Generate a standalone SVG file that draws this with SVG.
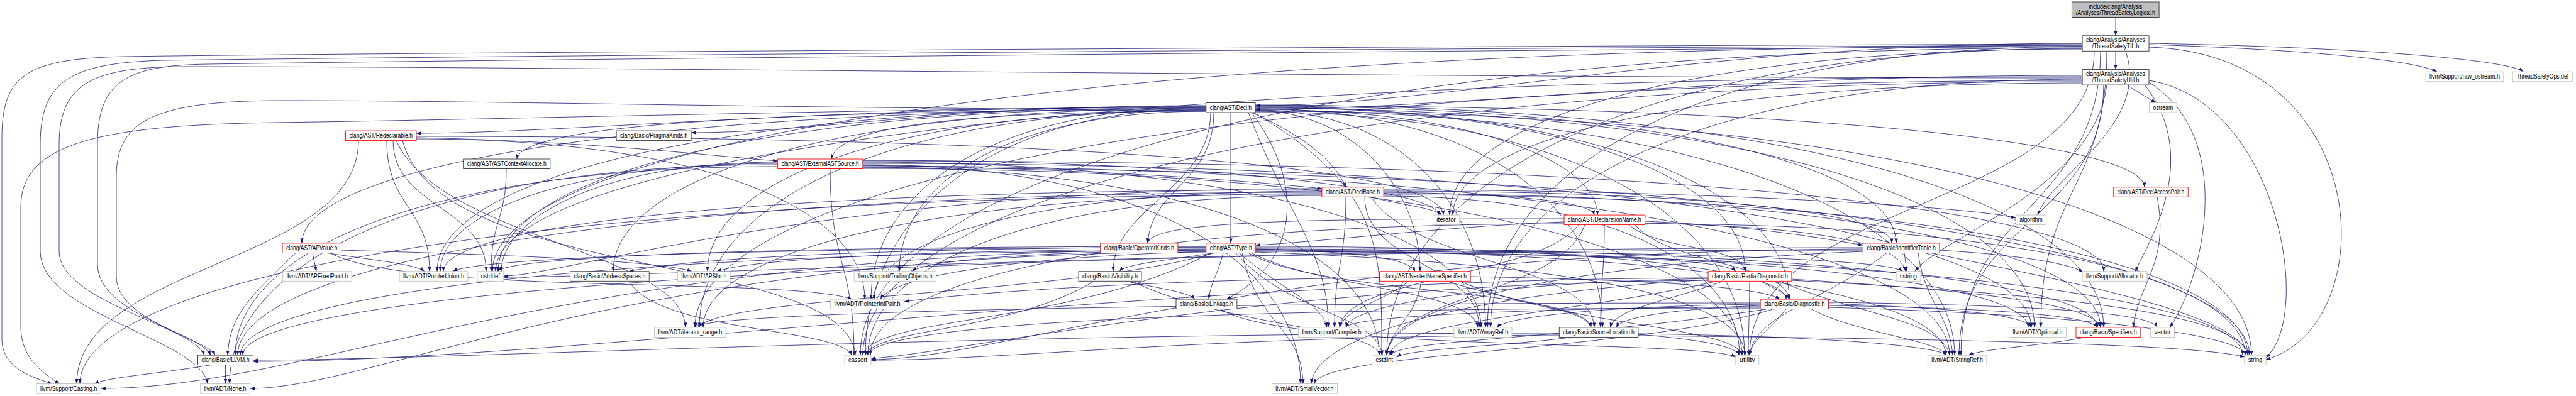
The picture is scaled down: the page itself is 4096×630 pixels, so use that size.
<svg xmlns="http://www.w3.org/2000/svg" width="4096" height="630" viewBox="0 0 4096 630">
<style>
.n rect{fill:#fff;stroke-width:0.9}
.r rect{stroke:#ff0000}.b rect{stroke:#333}.g rect{stroke:#bfbfbf}
.root rect{fill:#bfbfbf;stroke:#333}
text{font-family:"Liberation Sans",Arial,sans-serif;font-size:10px;text-anchor:middle;fill:#000}
#edges path{fill:none;stroke:#191970;stroke-width:0.8;marker-end:url(#a)}
</style>
<defs><marker id="a" viewBox="0 0 7.5 5.5" refX="7.5" refY="2.75" markerWidth="7.5" markerHeight="5.5" markerUnits="userSpaceOnUse" orient="auto"><path d="M0,0L7.5,2.75L0,5.5z" fill="#191970"/></marker></defs>
<rect x="0" y="0" width="4096" height="630" fill="#fff"/>
<g id="edges">
<path d="M3364,27.5C3364,40 3364,45 3364,56.8"/>
<path d="M3364,81.3C3364,92 3364,100 3364,110.6"/>
<path d="M3311,69C2700,69 2300,168 1996,168"/>
<path d="M3311,74C2300,80 800,95 330,102C200,104 155,130 155,230L155,420C155,500 320,530 335,565.1"/>
<path d="M3311,74C2696,74 2365,275 2365,520.9"/>
<path d="M3311,72C2200,77 700,90 260,96C110,100 64,130 64,230L64,400C64,500 320,540 330,610.6"/>
<path d="M3350,81.3C3350,300 3245,300 3245,520.9"/>
<path d="M3340,81.3C3340,330 3118,330 3118,565.1"/>
<path d="M3311,70C2200,74 600,84 200,90C40,93 3,120 3,220L3,540C3,585 50,600 83,610.6"/>
<path d="M3417,71C3650,78 3840,95 3875,114.2"/>
<path d="M3417,69C3750,75 3990,95 4012,114.2"/>
<path d="M3380,81.3C3420,200 3260,280 3240,342.1"/>
<path d="M3311,76C2048,76 1368,296 1368,565.1"/>
<path d="M3311,73C1668,73 783,234 783,431.8"/>
<path d="M3311,77C2592,77 2205,297 2205,565.1"/>
<path d="M3311,78C2657,78 2305,197 2305,342.1"/>
<path d="M3417,75C3780,85 3790,520 3603,572"/>
<path d="M3330,81.3C3330,330 2782,320 2782,565.1"/>
<path d="M3311,120C2700,120 2300,174 1996,174"/>
<path d="M3311,124C2300,124 900,106 300,106C150,106 94,130 94,230L94,400C94,480 310,520 325,565.1"/>
<path d="M3311,126C2699,126 2370,304 2370,520.9"/>
<path d="M3345,134.6C3345,350 3115,350 3115,565.1"/>
<path d="M3311,128C1877,128 1105,305 1105,520.9"/>
<path d="M3410,134.6C3500,250 3420,380 3395,431.8"/>
<path d="M3311,130C2051,130 1372,326 1372,565.1"/>
<path d="M3311,122C1671,122 788,261 788,431.8"/>
<path d="M3350,134.6C3330,300 3080,380 3045,431.8"/>
<path d="M3311,132C2660,132 2310,227 2310,342.1"/>
<path d="M3382,134.6C3395,145 3415,155 3428,163.5"/>
<path d="M3417,128C3620,160 3680,500 3603,569"/>
<path d="M3417,131C3560,220 3500,450 3450,520.9"/>
<path d="M1917.8,173C983,173 480,269 480,386.9"/>
<path d="M1917.8,175C1200,175 828,200 822,253"/>
<path d="M1917.8,177C1500,177 1330,205 1322,253"/>
<path d="M1917.8,170C1300,170 900,212 662,212"/>
<path d="M1917.8,168C1500,168 1300,211 1099,211"/>
<path d="M1917.8,172C1305,172 975,289 975,431.8"/>
<path d="M1917.8,174C1300,174 800,160 450,160C250,160 185,190 185,280L185,440C185,510 330,540 342,565.1"/>
<path d="M1917.8,176C1403,176 1125,291 1125,431.8"/>
<path d="M1917.8,171C1572,171 1385,308 1385,476"/>
<path d="M1917.8,169C1123,169 695,287 695,431.8"/>
<path d="M1917.8,175C1394,175 1112,331 1112,520.9"/>
<path d="M1917.8,170C1300,175 800,190 440,195C150,199 33,230 33,330L33,520C33,570 70,595 95,610.6"/>
<path d="M1917.8,177C1601,177 1430,292 1430,431.8"/>
<path d="M1917.8,173C1566,173 1376,349 1376,565.1"/>
<path d="M1917.8,171C1186,171 792,288 792,431.8"/>
<path d="M1996.1,168C2800,168 3405,220 3410,297.8"/>
<path d="M1990,178.8C2060,210 2120,250 2140,297.8"/>
<path d="M1996.1,174C2350,174 2540,260 2540,342.1"/>
<path d="M1996.1,176C2150,176 2258,300 2258,431.8"/>
<path d="M1957,178.8C1957,250 1957,320 1957,386.9"/>
<path d="M1996.1,170C2548,170 2845,308 2845,476"/>
<path d="M1996.1,169C2658,169 3015,267 3015,386.9"/>
<path d="M1990,178.8C2080,300 2060,420 1950,476"/>
<path d="M1930,178.8C1930,290 1830,300 1825,386.9"/>
<path d="M1996.1,171C2502,171 2775,288 2775,431.8"/>
<path d="M1996.1,173C2355,173 2548,330 2548,520.9"/>
<path d="M1996.1,167C2873,167 3345,326 3345,520.9"/>
<path d="M1925,178.8C1925,300 1770,330 1770,431.8"/>
<path d="M1996.1,175C2234,175 2362,331 2362,520.9"/>
<path d="M1996.1,172C2801,172 3235,329 3235,520.9"/>
<path d="M1996.1,176C2719,176 3108,351 3108,565.1"/>
<path d="M1985,178.8C2050,350 2112,400 2112,520.9"/>
<path d="M1993,178.8C2200,300 2197,400 2197,565.1"/>
<path d="M1996.1,177C3026,177 3580,352 3580,565.1"/>
<path d="M1996.1,178C2502,178 2774,352 2774,565.1"/>
<path d="M662,219C950,225 1150,250 1236.7,256"/>
<path d="M662,221C1128,221 1375,336 1375,476"/>
<path d="M615,223.7C615,330 683,330 683,431.8"/>
<path d="M630,223.7C700,380 1085,400 1090,520.9"/>
<path d="M570,223.7C570,420 122,420 122,610.6"/>
<path d="M640,223.7C700,450 1345,400 1360,565.1"/>
<path d="M625,223.7C625,330 773,330 773,431.8"/>
<path d="M662,217C1500,217 2290,250 2295,342.1"/>
<path d="M805,268.5C805,350 781,350 781,431.8"/>
<path d="M1371.8,263C1800,270 2000,290 2102,300"/>
<path d="M1236.7,265C676,265 374,400 374,565.1"/>
<path d="M1236.7,262C670,262 365,419 365,610.6"/>
<path d="M1236.7,260C900,260 700,340 700,431.8"/>
<path d="M1236.7,258C950,258 797,350 797,431.8"/>
<path d="M1371.8,258C2011,258 2355,376 2355,520.9"/>
<path d="M1371.8,260C2580,260 3230,377 3230,520.9"/>
<path d="M1371.8,262C1824,262 2068,419 2068,610.6"/>
<path d="M1371.8,264C2495,264 3100,399 3100,565.1"/>
<path d="M1371.8,256C2654,256 3345,335 3345,431.8"/>
<path d="M1320,268.5C1320,420 1358,420 1358,565.1"/>
<path d="M1371.8,266C1906,266 2193,401 2193,565.1"/>
<path d="M1371.8,255C1900,255 2285,300 2288,342.1"/>
<path d="M1371.8,267C2805,267 3577,401 3577,565.1"/>
<path d="M1371.8,268C2281,268 2770,402 2770,565.1"/>
<path d="M2200,306C2400,308 2530,320 2535,342.1"/>
<path d="M2200,304C2725,304 3008,341 3008,386.9"/>
<path d="M2102,306C981,306 378,423 378,565.1"/>
<path d="M2180,313.3C2250,420 2530,420 2535,520.9"/>
<path d="M2200,308C2941,308 3340,404 3340,520.9"/>
<path d="M2170,313.3C2170,420 2352,420 2352,520.9"/>
<path d="M2102,304C1639,304 1390,381 1390,476"/>
<path d="M2102,302C1194,302 705,360 705,431.8"/>
<path d="M2102,308C1462,308 1118,404 1118,520.9"/>
<path d="M2102,310C818,310 127,445 127,610.6"/>
<path d="M2140,313.3C2140,420 2122,420 2122,520.9"/>
<path d="M2200,302C2700,302 3150,330 3205,347"/>
<path d="M2102,311C1633,311 1380,425 1380,565.1"/>
<path d="M2102,300C1300,300 900,439 800.8,439"/>
<path d="M2180,313.3C2220,325 2280,330 2292,342.1"/>
<path d="M2200,310C3093,310 3574,425 3574,565.1"/>
<path d="M2200,312C2568,312 2766,426 2766,565.1"/>
<path d="M3430,313.3C3450,420 3400,450 3392,520.9"/>
<path d="M2487,353C2300,360 2100,385 1996.7,390"/>
<path d="M2600,357.6C2650,420 2840,420 2845,476"/>
<path d="M2615.7,352C2800,360 2900,380 2962.5,390"/>
<path d="M2487,348C2100,348 1830,350 1825,386.9"/>
<path d="M2590,357.6C2640,400 2770,390 2775,431.8"/>
<path d="M2551,357.6C2551,440 2545,440 2545,520.9"/>
<path d="M2510,357.6C2450,440 2140,440 2130,520.9"/>
<path d="M2487,356C1770,356 1384,450 1384,565.1"/>
<path d="M2520,357.6C2480,470 2210,470 2205,565.1"/>
<path d="M2615.7,355C2850,360 3020,380 3030,431.8"/>
<path d="M2615.7,356C3236,356 3570,450 3570,565.1"/>
<path d="M497,402.5C499,412 501,422 503,431.8"/>
<path d="M470,402.5C400,470 365,500 362,565.1"/>
<path d="M542.4,398C800,405 1050,415 1100,431.8"/>
<path d="M525,402.5C650,470 1250,440 1355,476"/>
<path d="M520,402.5C600,415 660,420 675,431.8"/>
<path d="M1996.7,396C2150,400 2240,410 2250,431.8"/>
<path d="M1917.8,393C1400,395 1100,410 1000,431.8"/>
<path d="M1996.7,392C2545,392 2840,430 2840,476"/>
<path d="M1917.8,399C920,399 382,474 382,565.1"/>
<path d="M1945,402.5C1935,440 1925,450 1922,476"/>
<path d="M1996.7,399C2500,405 2740,410 2760,431.8"/>
<path d="M1985,402.5C2100,470 2520,460 2530,520.9"/>
<path d="M1996.7,394C2867,394 3335,451 3335,520.9"/>
<path d="M1930,402.5C1850,415 1790,420 1780,431.8"/>
<path d="M1917.8,396C1500,398 1200,410 1140,431.8"/>
<path d="M1990,402.5C2100,460 2340,460 2350,520.9"/>
<path d="M1917.8,401C1000,401 600,618 397.6,618"/>
<path d="M1996.7,396C2795,396 3225,452 3225,520.9"/>
<path d="M1917.8,400C1600,410 1420,440 1400,476"/>
<path d="M1917.8,394C1200,394 760,410 720,431.8"/>
<path d="M1975,402.5C2000,520 2070,520 2072,610.6"/>
<path d="M1996.7,398C2710,398 3094,473 3094,565.1"/>
<path d="M1930,402.5C1700,470 1150,470 1110,520.9"/>
<path d="M1917.8,397C900,397 500,618 160.3,618"/>
<path d="M1970,402.5C2050,470 2100,480 2110,520.9"/>
<path d="M1917.8,398C1700,400 1480,410 1450,431.8"/>
<path d="M1925,402.5C1700,520 1400,500 1370,565.1"/>
<path d="M1917.8,392C1300,392 820,405 790,431.8"/>
<path d="M1965,402.5C2050,500 2190,500 2198,565.1"/>
<path d="M1996.7,397C2600,400 3000,410 3025,431.8"/>
<path d="M1996.7,400C3017,400 3566,474 3566,565.1"/>
<path d="M1996.7,401C2500,420 2770,470 2775,565.1"/>
<path d="M2962.5,398C1288,398 386,473 386,565.1"/>
<path d="M3050,402.5C3060,480 3100,500 3105,565.1"/>
<path d="M3083.9,398C3200,405 3290,418 3312,433"/>
<path d="M2962.5,396C2000,400 1600,572 1385,572"/>
<path d="M2962.5,394C2000,394 1000,441 800.8,441"/>
<path d="M2962.5,400C2500,420 2210,480 2205,565.1"/>
<path d="M3028,402.5C3029,412 3031,422 3032,431.8"/>
<path d="M3070,402.5C3300,450 3560,500 3575,565.1"/>
<path d="M3000,402.5C2900,480 2790,500 2782,565.1"/>
<path d="M2338.2,440C2600,445 2800,455 2830,476"/>
<path d="M2300,447.3C2400,480 2520,490 2530,520.9"/>
<path d="M2193.5,442C1800,445 1500,470 1437.6,480"/>
<path d="M2240,447.3C2200,480 2140,490 2130,520.9"/>
<path d="M2260,447.3C2250,510 2210,520 2205,565.1"/>
<path d="M2320,447.3C2500,520 2760,520 2770,565.1"/>
<path d="M2800,447.3C2820,460 2840,465 2845,476"/>
<path d="M2716.1,442C1800,445 900,575 402.4,575"/>
<path d="M2740,447.3C2650,480 2570,490 2560,520.9"/>
<path d="M2848.9,444C3100,460 3330,480 3340,520.9"/>
<path d="M2830,447.3C2950,500 3090,510 3100,565.1"/>
<path d="M2716.1,445C2300,470 2090,540 2085,610.6"/>
<path d="M2716.1,443C2400,450 2150,480 2140,520.9"/>
<path d="M2716.1,446C2000,450 1500,566 1385,570"/>
<path d="M2730,447.3C2500,500 2215,510 2210,565.1"/>
<path d="M2848.9,446C3300,470 3560,500 3575,565.1"/>
<path d="M2782,447.3C2782,500 2780,520 2780,565.1"/>
<path d="M2799.2,486C2700,490 2580,500 2570,520.9"/>
<path d="M2907.5,486C3150,490 3320,500 3335,520.9"/>
<path d="M2799.2,484C2600,486 2400,500 2380,520.9"/>
<path d="M2907.5,483C3100,490 3220,500 3230,520.9"/>
<path d="M2820,491.6C2600,560 2100,560 2090,610.6"/>
<path d="M2880,491.6C2950,530 3080,540 3095,565.1"/>
<path d="M2799.2,482C1700,482 1110,500 1105,520.9"/>
<path d="M2799.2,488C2500,490 2150,500 2140,520.9"/>
<path d="M2799.2,490C2000,490 1400,510 1378,565.1"/>
<path d="M2810,491.6C2500,540 2220,540 2212,565.1"/>
<path d="M2907.5,489C3300,500 3560,530 3572,565.1"/>
<path d="M2840,491.6C2810,530 2785,540 2782,565.1"/>
<path d="M2907.5,481C3200,485 3420,495 3430,520.9"/>
<path d="M3320,535.8C3250,550 3150,555 3130,565.1"/>
<path d="M2479.3,530C1500,530 700,573 402.4,573"/>
<path d="M2604.9,531C2900,535 3080,550 3095,565.1"/>
<path d="M2479.3,533C1900,535 1600,573 1385,573"/>
<path d="M2500,536.4C2400,550 2240,555 2221,568"/>
<path d="M2604.9,534C3200,540 3500,550 3569,568"/>
<path d="M2604.9,532C2700,540 2760,550 2765,565.1"/>
<path d="M1940,491.6C2050,560 2700,540 2760,568"/>
<path d="M1790,447.3C1850,460 1890,465 1900,476"/>
<path d="M1740,447.3C1600,530 1400,520 1375,565.1"/>
<path d="M1800,447.3C1950,520 2180,520 2195,565.1"/>
<path d="M1000,447.3C1050,530 1330,520 1355,565.1"/>
<path d="M335,580.6C250,595 170,600 150,610.6"/>
<path d="M358.5,580.6C358.5,590 358.5,600 358.5,610.6"/>
</g>
<g id="n_logical" class="n root"><rect x="3294.4" y="3" width="138.7" height="24.5"/><text x="3363.8" y="13.5" textLength="85" lengthAdjust="spacingAndGlyphs">include/clang/Analysis</text><text x="3363.8" y="23.5" textLength="126" lengthAdjust="spacingAndGlyphs">/Analyses/ThreadSafetyLogical.h</text></g>
<g id="n_til" class="n b"><rect x="3311.1" y="56.8" width="105.9" height="24.5"/><text x="3364" y="67.3" textLength="94" lengthAdjust="spacingAndGlyphs">clang/Analysis/Analyses</text><text x="3364" y="77.3" textLength="75" lengthAdjust="spacingAndGlyphs">/ThreadSafetyTIL.h</text></g>
<g id="n_util" class="n b"><rect x="3311.1" y="110.6" width="105.9" height="24.5"/><text x="3364" y="121.1" textLength="94" lengthAdjust="spacingAndGlyphs">clang/Analysis/Analyses</text><text x="3364" y="131.1" textLength="75" lengthAdjust="spacingAndGlyphs">/ThreadSafetyUtil.h</text></g>
<g id="n_rawostream" class="n g"><rect x="3857.1" y="114.2" width="123.8" height="15.5"/><text x="3919" y="125.4" textLength="111.8" lengthAdjust="spacingAndGlyphs">llvm/Support/raw_ostream.h</text></g>
<g id="n_opsdef" class="n g"><rect x="3995.2" y="114.2" width="95.1" height="15.5"/><text x="4042.7" y="125.4" textLength="83.1" lengthAdjust="spacingAndGlyphs">ThreadSafetyOps.def</text></g>
<g id="n_ostream" class="n g"><rect x="3417.6" y="163.5" width="43.6" height="15.5"/><text x="3439.4" y="174.7" textLength="31.6" lengthAdjust="spacingAndGlyphs">ostream</text></g>
<g id="n_decl" class="n b"><rect x="1917.8" y="163.5" width="78.3" height="15.5"/><text x="1957" y="174.7" textLength="66.3" lengthAdjust="spacingAndGlyphs">clang/AST/Decl.h</text></g>
<g id="n_redecl" class="n r"><rect x="549.6" y="208.1" width="112.4" height="15.5"/><text x="605.8" y="219.3" textLength="100.4" lengthAdjust="spacingAndGlyphs">clang/AST/Redeclarable.h</text></g>
<g id="n_pragma" class="n b"><rect x="980.1" y="208.1" width="119" height="15.5"/><text x="1039.6" y="219.3" textLength="107" lengthAdjust="spacingAndGlyphs">clang/Basic/PragmaKinds.h</text></g>
<g id="n_astca" class="n b"><rect x="736.7" y="253" width="138.1" height="15.5"/><text x="805.8" y="264.2" textLength="126.1" lengthAdjust="spacingAndGlyphs">clang/AST/ASTContextAllocate.h</text></g>
<g id="n_ext" class="n r"><rect x="1236.7" y="253" width="135.1" height="15.5"/><text x="1304.2" y="264.2" textLength="123.1" lengthAdjust="spacingAndGlyphs">clang/AST/ExternalASTSource.h</text></g>
<g id="n_declbase" class="n r"><rect x="2102" y="297.8" width="98.1" height="15.5"/><text x="2151" y="309" textLength="86.1" lengthAdjust="spacingAndGlyphs">clang/AST/DeclBase.h</text></g>
<g id="n_dap" class="n r"><rect x="3360.8" y="297.8" width="118.4" height="15.5"/><text x="3420" y="309" textLength="106.4" lengthAdjust="spacingAndGlyphs">clang/AST/DeclAccessPair.h</text></g>
<g id="n_iterator" class="n g"><rect x="2278.4" y="342.1" width="42.5" height="15.5"/><text x="2299.6" y="353.3" textLength="30.5" lengthAdjust="spacingAndGlyphs">iterator</text></g>
<g id="n_dname" class="n r"><rect x="2487.1" y="342.1" width="128.6" height="15.5"/><text x="2551.4" y="353.3" textLength="116.6" lengthAdjust="spacingAndGlyphs">clang/AST/DeclarationName.h</text></g>
<g id="n_algorithm" class="n g"><rect x="3205.3" y="342.1" width="48.4" height="15.5"/><text x="3229.5" y="353.3" textLength="36.4" lengthAdjust="spacingAndGlyphs">algorithm</text></g>
<g id="n_apvalue" class="n r"><rect x="449.1" y="386.9" width="93.3" height="15.5"/><text x="495.7" y="398.1" textLength="81.3" lengthAdjust="spacingAndGlyphs">clang/AST/APValue.h</text></g>
<g id="n_opkinds" class="n r"><rect x="1749.7" y="386.9" width="123.2" height="15.5"/><text x="1811.3" y="398.1" textLength="111.2" lengthAdjust="spacingAndGlyphs">clang/Basic/OperatorKinds.h</text></g>
<g id="n_type" class="n r"><rect x="1917.8" y="386.9" width="78.9" height="15.5"/><text x="1957.2" y="398.1" textLength="66.9" lengthAdjust="spacingAndGlyphs">clang/AST/Type.h</text></g>
<g id="n_idtable" class="n r"><rect x="2962.5" y="386.9" width="121.4" height="15.5"/><text x="3023.2" y="398.1" textLength="109.4" lengthAdjust="spacingAndGlyphs">clang/Basic/IdentifierTable.h</text></g>
<g id="n_apfixed" class="n g"><rect x="449.7" y="431.8" width="109.4" height="15.5"/><text x="504.4" y="443" textLength="97.4" lengthAdjust="spacingAndGlyphs">llvm/ADT/APFixedPoint.h</text></g>
<g id="n_punion" class="n g"><rect x="635.1" y="431.8" width="108.8" height="15.5"/><text x="689.5" y="443" textLength="96.8" lengthAdjust="spacingAndGlyphs">llvm/ADT/PointerUnion.h</text></g>
<g id="n_cstddef" class="n g"><rect x="758.9" y="431.8" width="41.9" height="15.5"/><text x="779.8" y="443" textLength="29.9" lengthAdjust="spacingAndGlyphs">cstddef</text></g>
<g id="n_addr" class="n b"><rect x="906.6" y="431.8" width="125.6" height="15.5"/><text x="969.4" y="443" textLength="113.6" lengthAdjust="spacingAndGlyphs">clang/Basic/AddressSpaces.h</text></g>
<g id="n_apsint" class="n g"><rect x="1077.6" y="431.8" width="83.7" height="15.5"/><text x="1119.4" y="443" textLength="71.7" lengthAdjust="spacingAndGlyphs">llvm/ADT/APSInt.h</text></g>
<g id="n_trailing" class="n g"><rect x="1358.1" y="431.8" width="130.4" height="15.5"/><text x="1423.3" y="443" textLength="118.4" lengthAdjust="spacingAndGlyphs">llvm/Support/TrailingObjects.h</text></g>
<g id="n_vis" class="n b"><rect x="1715.1" y="431.8" width="99.9" height="15.5"/><text x="1765" y="443" textLength="87.9" lengthAdjust="spacingAndGlyphs">clang/Basic/Visibility.h</text></g>
<g id="n_nns" class="n r"><rect x="2193.5" y="431.8" width="144.7" height="15.5"/><text x="2265.8" y="443" textLength="132.7" lengthAdjust="spacingAndGlyphs">clang/AST/NestedNameSpecifier.h</text></g>
<g id="n_pdiag" class="n r"><rect x="2716.1" y="431.8" width="132.8" height="15.5"/><text x="2782.5" y="443" textLength="120.8" lengthAdjust="spacingAndGlyphs">clang/Basic/PartialDiagnostic.h</text></g>
<g id="n_cstring" class="n g"><rect x="3015.1" y="431.8" width="38.9" height="15.5"/><text x="3034.5" y="443" textLength="26.9" lengthAdjust="spacingAndGlyphs">cstring</text></g>
<g id="n_allocator" class="n g"><rect x="3311.1" y="431.8" width="102.9" height="15.5"/><text x="3362.5" y="443" textLength="90.9" lengthAdjust="spacingAndGlyphs">llvm/Support/Allocator.h</text></g>
<g id="n_pip" class="n g"><rect x="1320.4" y="476" width="117.2" height="15.5"/><text x="1379" y="487.2" textLength="105.2" lengthAdjust="spacingAndGlyphs">llvm/ADT/PointerIntPair.h</text></g>
<g id="n_linkage" class="n b"><rect x="1870" y="476" width="96.9" height="15.5"/><text x="1918.4" y="487.2" textLength="84.9" lengthAdjust="spacingAndGlyphs">clang/Basic/Linkage.h</text></g>
<g id="n_diag" class="n r"><rect x="2799.2" y="476" width="108.3" height="15.5"/><text x="2853.3" y="487.2" textLength="96.3" lengthAdjust="spacingAndGlyphs">clang/Basic/Diagnostic.h</text></g>
<g id="n_irange" class="n g"><rect x="1040.5" y="520.9" width="113.6" height="15.5"/><text x="1097.3" y="532.1" textLength="101.6" lengthAdjust="spacingAndGlyphs">llvm/ADT/iterator_range.h</text></g>
<g id="n_compiler" class="n g"><rect x="2064.3" y="520.9" width="106.4" height="15.5"/><text x="2117.5" y="532.1" textLength="94.4" lengthAdjust="spacingAndGlyphs">llvm/Support/Compiler.h</text></g>
<g id="n_arrayref" class="n g"><rect x="2311.9" y="520.9" width="92.1" height="15.5"/><text x="2358" y="532.1" textLength="80.1" lengthAdjust="spacingAndGlyphs">llvm/ADT/ArrayRef.h</text></g>
<g id="n_srcloc" class="n b"><rect x="2479.3" y="520.9" width="125.6" height="15.5"/><text x="2542.1" y="532.1" textLength="113.6" lengthAdjust="spacingAndGlyphs">clang/Basic/SourceLocation.h</text></g>
<g id="n_optional" class="n g"><rect x="3194.5" y="520.9" width="90.9" height="15.5"/><text x="3240" y="532.1" textLength="78.9" lengthAdjust="spacingAndGlyphs">llvm/ADT/Optional.h</text></g>
<g id="n_specifiers" class="n r"><rect x="3301" y="520.9" width="102.8" height="15.5"/><text x="3352.4" y="532.1" textLength="90.8" lengthAdjust="spacingAndGlyphs">clang/Basic/Specifiers.h</text></g>
<g id="n_vector" class="n g"><rect x="3419.4" y="520.9" width="38.2" height="15.5"/><text x="3438.5" y="532.1" textLength="26.2" lengthAdjust="spacingAndGlyphs">vector</text></g>
<g id="n_llvm" class="n b"><rect x="314.5" y="565.1" width="87.9" height="15.5"/><text x="358.5" y="576.3" textLength="75.9" lengthAdjust="spacingAndGlyphs">clang/Basic/LLVM.h</text></g>
<g id="n_cassert" class="n g"><rect x="1343.1" y="565.1" width="41.9" height="15.5"/><text x="1364" y="576.3" textLength="29.9" lengthAdjust="spacingAndGlyphs">cassert</text></g>
<g id="n_cstdint" class="n g"><rect x="2181.5" y="565.1" width="39.5" height="15.5"/><text x="2201.2" y="576.3" textLength="27.5" lengthAdjust="spacingAndGlyphs">cstdint</text></g>
<g id="n_utility" class="n g"><rect x="2759.8" y="565.1" width="37" height="15.5"/><text x="2778.3" y="576.3" textLength="25" lengthAdjust="spacingAndGlyphs">utility</text></g>
<g id="n_stringref" class="n g"><rect x="3065.3" y="565.1" width="93.6" height="15.5"/><text x="3112.1" y="576.3" textLength="81.6" lengthAdjust="spacingAndGlyphs">llvm/ADT/StringRef.h</text></g>
<g id="n_string" class="n g"><rect x="3568.9" y="565.1" width="34.1" height="15.5"/><text x="3586" y="576.3" textLength="22.1" lengthAdjust="spacingAndGlyphs">string</text></g>
<g id="n_casting" class="n g"><rect x="58" y="610.6" width="102.3" height="15.5"/><text x="109.1" y="621.8" textLength="90.3" lengthAdjust="spacingAndGlyphs">llvm/Support/Casting.h</text></g>
<g id="n_none" class="n g"><rect x="318.7" y="610.6" width="78.9" height="15.5"/><text x="358.1" y="621.8" textLength="66.9" lengthAdjust="spacingAndGlyphs">llvm/ADT/None.h</text></g>
<g id="n_smallvec" class="n g"><rect x="2022.4" y="610.6" width="104.1" height="15.5"/><text x="2074.4" y="621.8" textLength="92.1" lengthAdjust="spacingAndGlyphs">llvm/ADT/SmallVector.h</text></g>
</svg>
